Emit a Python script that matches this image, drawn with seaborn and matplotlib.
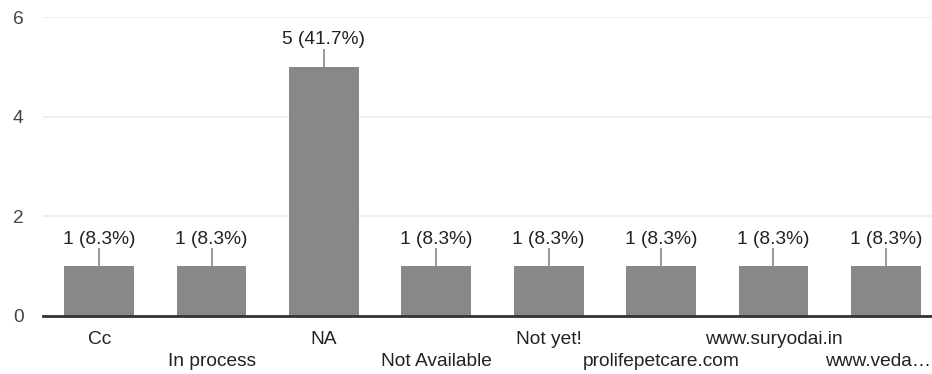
import matplotlib
matplotlib.use("Agg")
import matplotlib.pyplot as plt
import seaborn as sns
import pandas as pd

categories = ["Cc", "In process", "NA", "Not Available", "Not yet!",
              "prolifepetcare.com", "www.suryodai.in", "www.veda\u2026"]
counts = [1, 1, 5, 1, 1, 1, 1, 1]
percents = ["8.3%", "8.3%", "41.7%", "8.3%", "8.3%", "8.3%", "8.3%", "8.3%"]

df = pd.DataFrame({"answer": categories, "count": counts})

sns.set_theme(style="white")
plt.rcParams['font.family'] = ['Liberation Sans', 'DejaVu Sans']

PX = 72 / 100  # points per pixel at dpi 100
FS = 13.8

fig = plt.figure(figsize=(9.32, 3.74), dpi=100)
# plot area runs past the right edge, like the cropped original
ax = fig.add_axes([43 / 932, (374 - 316) / 374, 899 / 932, 299 / 374])

sns.barplot(x="answer", y="count", data=df, ax=ax, color="#888888",
            width=0.62, saturation=1, edgecolor="none")

ax.set_ylim(0, 6)
ax.set_xlim(-0.5, len(categories) - 0.5)
ax.set_yticks([0, 2, 4, 6])
ax.grid(axis="y", color="#ebebeb", linewidth=1.2)
ax.set_axisbelow(True)
for s in ["top", "right", "left"]:
    ax.spines[s].set_visible(False)
ax.spines["bottom"].set_color("#333333")
ax.spines["bottom"].set_linewidth(2)
ax.tick_params(axis="y", length=0, pad=14, labelsize=FS, labelcolor="#444444")
ax.tick_params(axis="x", length=0)
ax.set_xticklabels([])
ax.set_xlabel("")
ax.set_ylabel("")

# staggered category labels; the last one is nudged in to stay on the canvas
for i, name in enumerate(categories):
    off = -24 if i % 2 == 0 else -46
    dx = -8 if i == len(categories) - 1 else 0
    ax.annotate(name, (i, 0), xytext=(dx * PX, off * PX), textcoords="offset points",
                ha="center", va="center", fontsize=FS, color="#222222",
                annotation_clip=False)

# value labels with a short connector line
for i, (c, p) in enumerate(zip(counts, percents)):
    ax.annotate(f"{c} ({p})", (i, c), xytext=(0, 27 * PX), textcoords="offset points",
                ha="center", va="center", fontsize=FS, color="#222222")
    ax.vlines(i, c, c + 18 / 49.8, color="#888888", linewidth=1.2)

fig.savefig("out.png", dpi=100)
plt.close(fig)
